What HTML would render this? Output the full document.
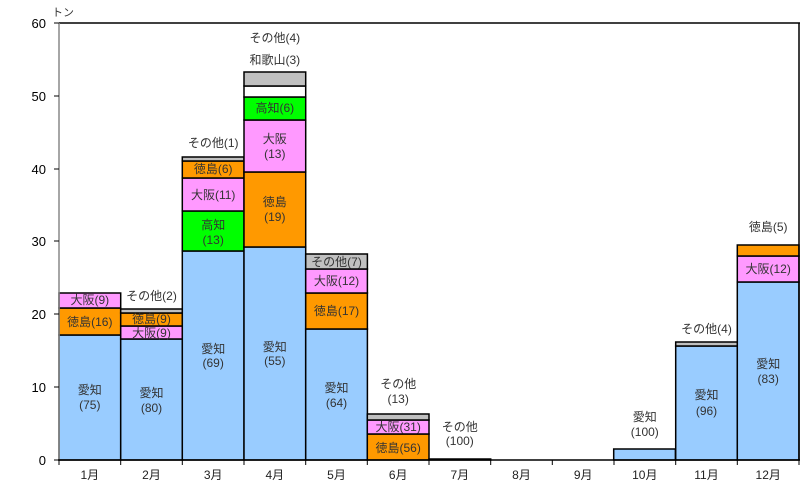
<!DOCTYPE html>
<html><head><meta charset="utf-8"><style>
html,body{margin:0;padding:0;background:#fff;}
svg{display:block;font-family:"Liberation Sans","Noto Sans CJK JP",sans-serif;}
</style></head><body>
<svg width="806" height="491" viewBox="0 0 806 491" xmlns="http://www.w3.org/2000/svg">
<g stroke="#000" stroke-width="1.5">
<!-- Jan -->
<rect x="59" y="335" width="61.7" height="125" fill="#99CCFF"/>
<rect x="59" y="308" width="61.7" height="27" fill="#FF9900"/>
<rect x="59" y="293" width="61.7" height="15" fill="#FF99FF"/>
<!-- Feb -->
<rect x="120.7" y="339" width="61.7" height="121" fill="#99CCFF"/>
<rect x="120.7" y="326" width="61.7" height="13" fill="#FF99FF"/>
<rect x="120.7" y="313" width="61.7" height="13" fill="#FF9900"/>
<rect x="120.7" y="309" width="61.7" height="4" fill="#C0C0C0"/>
<!-- Mar -->
<rect x="182.3" y="251" width="61.7" height="209" fill="#99CCFF"/>
<rect x="182.3" y="211" width="61.7" height="40" fill="#00FF00"/>
<rect x="182.3" y="178" width="61.7" height="33" fill="#FF99FF"/>
<rect x="182.3" y="161" width="61.7" height="17" fill="#FF9900"/>
<rect x="182.3" y="157" width="61.7" height="4" fill="#C0C0C0"/>
<!-- Apr -->
<rect x="244" y="247" width="61.7" height="213" fill="#99CCFF"/>
<rect x="244" y="172" width="61.7" height="75" fill="#FF9900"/>
<rect x="244" y="120" width="61.7" height="52" fill="#FF99FF"/>
<rect x="244" y="97" width="61.7" height="23" fill="#00FF00"/>
<rect x="244" y="86" width="61.7" height="11" fill="#FFFFFF"/>
<rect x="244" y="72" width="61.7" height="14" fill="#C0C0C0"/>
<!-- May -->
<rect x="305.7" y="329" width="61.7" height="131" fill="#99CCFF"/>
<rect x="305.7" y="293" width="61.7" height="36" fill="#FF9900"/>
<rect x="305.7" y="269" width="61.7" height="24" fill="#FF99FF"/>
<rect x="305.7" y="254" width="61.7" height="15" fill="#C0C0C0"/>
<!-- Jun -->
<rect x="367.3" y="434" width="61.7" height="26" fill="#FF9900"/>
<rect x="367.3" y="420" width="61.7" height="14" fill="#FF99FF"/>
<rect x="367.3" y="414" width="61.7" height="6" fill="#C0C0C0"/>
<!-- Jul -->
<rect x="429" y="459" width="61.7" height="1" fill="#C0C0C0"/>
<!-- Oct -->
<rect x="613.7" y="449" width="61.7" height="11" fill="#99CCFF"/>
<!-- Nov -->
<rect x="675.7" y="346" width="61.7" height="114" fill="#99CCFF"/>
<rect x="675.7" y="342" width="61.7" height="4" fill="#C0C0C0"/>
<!-- Dec -->
<rect x="737.3" y="282" width="61.7" height="178" fill="#99CCFF"/>
<rect x="737.3" y="256" width="61.7" height="26" fill="#FF99FF"/>
<rect x="737.3" y="245" width="61.7" height="11" fill="#FF9900"/>
</g>
<!-- frame -->
<line x1="59" y1="23" x2="800" y2="23" stroke="#000" stroke-width="1.5"/>
<line x1="799" y1="23" x2="799" y2="460" stroke="#000" stroke-width="1.5"/>
<line x1="59" y1="23" x2="59" y2="460" stroke="#888" stroke-width="1.5"/>
<line x1="58" y1="460" x2="800" y2="460" stroke="#000" stroke-width="1.5"/>
<g stroke="#000" stroke-width="1">
<line x1="54" y1="23" x2="59" y2="23"/><line x1="54" y1="96" x2="59" y2="96"/><line x1="54" y1="169" x2="59" y2="169"/><line x1="54" y1="241" x2="59" y2="241"/><line x1="54" y1="314" x2="59" y2="314"/><line x1="54" y1="387" x2="59" y2="387"/><line x1="54" y1="460" x2="59" y2="460"/>
<line x1="59" y1="460" x2="59" y2="465"/><line x1="120.7" y1="460" x2="120.7" y2="465"/><line x1="182.3" y1="460" x2="182.3" y2="465"/><line x1="244" y1="460" x2="244" y2="465"/><line x1="305.7" y1="460" x2="305.7" y2="465"/><line x1="367.3" y1="460" x2="367.3" y2="465"/><line x1="429" y1="460" x2="429" y2="465"/><line x1="490.7" y1="460" x2="490.7" y2="465"/><line x1="552.3" y1="460" x2="552.3" y2="465"/><line x1="614" y1="460" x2="614" y2="465"/><line x1="675.7" y1="460" x2="675.7" y2="465"/><line x1="737.3" y1="460" x2="737.3" y2="465"/><line x1="799" y1="460" x2="799" y2="465"/>
</g>
<g font-size="13" fill="#000" text-anchor="end">
<text x="46" y="28">60</text><text x="46" y="101">50</text><text x="46" y="174">40</text><text x="46" y="246">30</text><text x="46" y="319">20</text><text x="46" y="392">10</text><text x="46" y="465">0</text>
</g>
<text x="52" y="16" font-size="11" fill="#333">トン</text>
<g font-size="12" fill="#222" text-anchor="middle">
<text x="89.8" y="479">1月</text><text x="151.5" y="479">2月</text><text x="213.2" y="479">3月</text><text x="274.8" y="479">4月</text><text x="336.5" y="479">5月</text><text x="398.2" y="479">6月</text><text x="459.8" y="479">7月</text><text x="521.5" y="479">8月</text><text x="583.2" y="479">9月</text><text x="644.8" y="479">10月</text><text x="706.5" y="479">11月</text><text x="768.2" y="479">12月</text>
</g>
<g font-size="12" fill="#333" text-anchor="middle">
<text x="89.8" y="304">大阪(9)</text><text x="89.8" y="326">徳島(16)</text><text x="89.8" y="394">愛知</text><text x="89.8" y="409">(75)</text>
<text x="151.5" y="300">その他(2)</text><text x="151.5" y="323">徳島(9)</text><text x="151.5" y="337">大阪(9)</text><text x="151.5" y="397">愛知</text><text x="151.5" y="412">(80)</text>
<text x="213.2" y="147">その他(1)</text><text x="213.2" y="173">徳島(6)</text><text x="213.2" y="199">大阪(11)</text><text x="213.2" y="229">高知</text><text x="213.2" y="244">(13)</text><text x="213.2" y="353">愛知</text><text x="213.2" y="367">(69)</text>
<text x="274.8" y="42">その他(4)</text><text x="274.8" y="64">和歌山(3)</text><text x="274.8" y="112">高知(6)</text><text x="274.8" y="143">大阪</text><text x="274.8" y="158">(13)</text><text x="274.8" y="206">徳島</text><text x="274.8" y="221">(19)</text><text x="274.8" y="351">愛知</text><text x="274.8" y="365">(55)</text>
<text x="336.5" y="266">その他(7)</text><text x="336.5" y="285">大阪(12)</text><text x="336.5" y="315">徳島(17)</text><text x="336.5" y="392">愛知</text><text x="336.5" y="407">(64)</text>
<text x="398.2" y="388">その他</text><text x="398.2" y="403">(13)</text><text x="398.2" y="431">大阪(31)</text><text x="398.2" y="452">徳島(56)</text>
<text x="459.8" y="431">その他</text><text x="459.8" y="445">(100)</text>
<text x="644.8" y="421">愛知</text><text x="644.8" y="436">(100)</text>
<text x="706.5" y="333">その他(4)</text><text x="706.5" y="399">愛知</text><text x="706.5" y="415">(96)</text>
<text x="768.2" y="231">徳島(5)</text><text x="768.2" y="273">大阪(12)</text><text x="768.2" y="368">愛知</text><text x="768.2" y="383">(83)</text>
</g>
</svg>
</body></html>
